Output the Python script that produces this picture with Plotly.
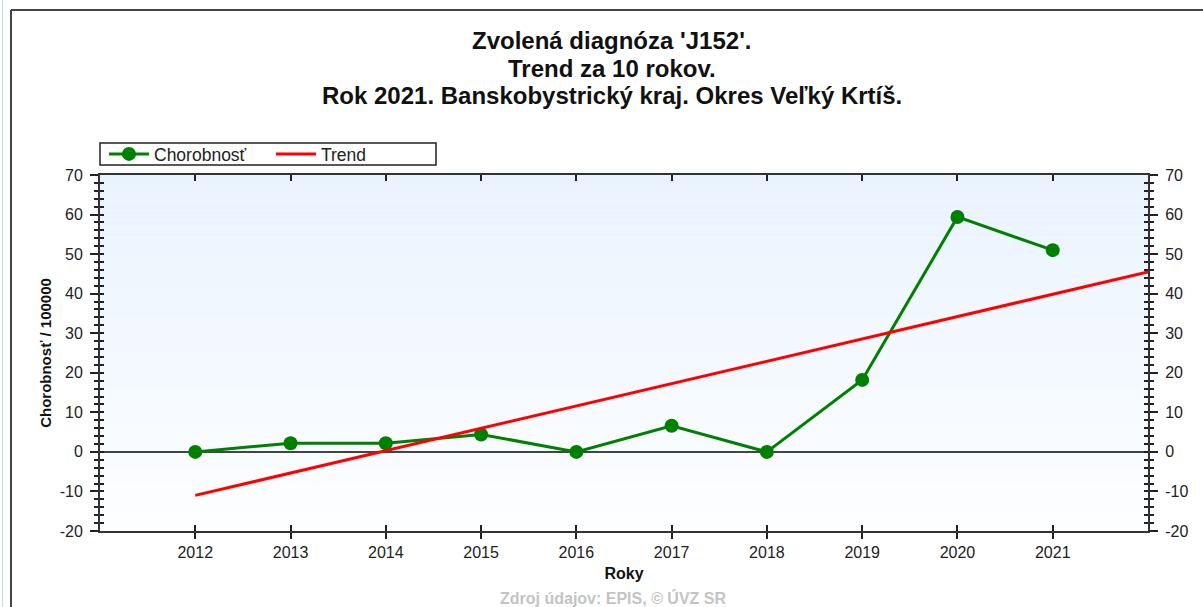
import plotly.graph_objects as go

# ---- data ----
years = [2012, 2013, 2014, 2015, 2016, 2017, 2018, 2019, 2020, 2021]
morbidity = [0.0, 2.2, 2.2, 4.4, 0.0, 6.6, 0.0, 18.2, 59.4, 51.0]
trend_years = [2012, 2022]
trend_values = [-11.0, 45.5]
x_tick_labels = [str(y) for y in years]
y_tick_values = [-20, -10, 0, 10, 20, 30, 40, 50, 60, 70]
y_tick_labels = ["-20", "-10", "0", "10", "20", "30", "40", "50", "60", "70"]

title_lines = [
    "Zvolená diagnóza 'J152'.",
    "Trend za 10 rokov.",
    "Rok 2021. Banskobystrický kraj. Okres Veľký Krtíš.",
]
series_names = ["Chorobnosť", "Trend"]
y_title = "Chorobnosť / 100000"
x_title = "Roky"
footer = "Zdroj údajov: EPIS, © ÚVZ SR"

# ---- layout geometry (pixels) ----
W, H = 1203, 607
L, R, T, B = 100, 1148, 175, 531
PW, PH = R - L, B - T


def px(xp):
    return (xp - L) / PW


def py(yp):
    return (B - yp) / PH


FONT = "Arial, Liberation Sans, sans-serif"
TXT = "#222222"

fig = go.Figure()

fig.add_trace(go.Scatter(
    x=years, y=morbidity, name=series_names[0], mode="lines+markers",
    line=dict(color="#008000", width=3),
    marker=dict(color="#008000", size=14, symbol="circle"),
))
fig.add_trace(go.Scatter(
    x=trend_years, y=trend_values, name=series_names[1], mode="lines",
    line=dict(color="#ff0000", width=3),
))
# helper traces to activate the extra axes
fig.add_trace(go.Scatter(x=[], y=[], xaxis="x2", yaxis="y3", showlegend=False, hoverinfo="skip"))
fig.add_trace(go.Scatter(x=[], y=[], xaxis="x", yaxis="y2", showlegend=False, hoverinfo="skip"))

xr = [2011, 2022]
yr = [-20, 70]
common_tickfont = dict(family=FONT, size=16, color=TXT)

fig.update_layout(
    width=W, height=H,
    margin=dict(l=L, r=W - R, t=T, b=H - B, pad=0),
    paper_bgcolor="white",
    plot_bgcolor="white",
    font=dict(family=FONT, color=TXT),
    showlegend=True,
    legend=dict(
        orientation="h", x=px(104), y=py(154), xanchor="left", yanchor="middle",
        font=dict(family=FONT, size=17.5, color=TXT),
        bgcolor="rgba(0,0,0,0)", borderwidth=0,
        entrywidth=112, entrywidthmode="pixels",
        itemwidth=40, tracegroupgap=0,
    ),
    xaxis=dict(
        range=xr, tickvals=years, ticktext=x_tick_labels,
        ticks="outside", ticklen=6, tickwidth=1.5, tickcolor="#222",
        showline=True, linecolor="#333", linewidth=2, mirror=True,
        showgrid=False, zeroline=False, tickfont=common_tickfont,
        title=dict(text=f"<b>{x_title}</b>", font=dict(family=FONT, size=16, color="#111"), standoff=8),
    ),
    xaxis2=dict(
        range=xr, overlaying="x", anchor="y", side="bottom", tickvals=years,
        ticks="inside", ticklen=6, tickwidth=1.5, tickcolor="#222", mirror="ticks",
        showticklabels=False, showline=False, showgrid=False, zeroline=False,
    ),
    yaxis=dict(
        range=yr, tickvals=y_tick_values, ticktext=y_tick_labels, side="left",
        ticks="outside", ticklen=8, tickwidth=1.5, tickcolor="#222",
        minor=dict(dtick=2, ticks="outside", ticklen=4, tickwidth=1.5, tickcolor="#222", showgrid=False),
        showline=True, linecolor="#333", linewidth=2,
        showgrid=False, zeroline=True, zerolinecolor="#444", zerolinewidth=1.5,
        tickfont=common_tickfont, ticklabelstandoff=4,
        title=dict(text=f"<b>{y_title}</b>", font=dict(family=FONT, size=15, color="#111"), standoff=4),
    ),
    yaxis2=dict(
        range=yr, tickvals=y_tick_values, ticktext=y_tick_labels, overlaying="y", side="right", anchor="x",
        ticks="outside", ticklen=8, tickwidth=1.5, tickcolor="#222",
        minor=dict(dtick=2, ticks="outside", ticklen=4, tickwidth=1.5, tickcolor="#222", showgrid=False),
        showline=True, linecolor="#333", linewidth=2,
        showgrid=False, zeroline=False, tickfont=common_tickfont, ticklabelstandoff=4,
    ),
    yaxis3=dict(
        range=yr, tickvals=y_tick_values, overlaying="y", side="left", anchor="x2",
        ticks="inside", ticklen=4, tickwidth=1.5, tickcolor="#222", mirror="ticks",
        minor=dict(dtick=2, ticks="inside", ticklen=4, tickwidth=1.5, tickcolor="#222", showgrid=False),
        showticklabels=False, showline=False, showgrid=False, zeroline=False,
    ),
)

# gradient plot background
N = 40
top = (233, 243, 254)
bot = (253, 254, 255)
for i in range(N):
    t = i / (N - 1)
    c = tuple(round(top[k] + (bot[k] - top[k]) * t) for k in range(3))
    fig.add_shape(
        type="rect", xref="x domain", yref="y domain",
        x0=0, x1=1, y0=1 - (i + 1) / N, y1=1 - i / N,
        fillcolor=f"rgb{c}", line=dict(width=0), layer="below",
    )

# legend box
fig.add_shape(type="rect", xref="paper", yref="paper",
              x0=px(100), x1=px(436), y0=py(165), y1=py(143),
              line=dict(color="#222", width=1.5), fillcolor="rgba(0,0,0,0)")
# outer frame
fig.add_shape(type="line", xref="paper", yref="paper",
              x0=px(11), x1=px(1210), y0=py(10), y1=py(10),
              line=dict(color="#444", width=2))
fig.add_shape(type="line", xref="paper", yref="paper",
              x0=px(11), x1=px(11), y0=py(10), y1=py(620),
              line=dict(color="#444", width=2))
fig.add_shape(type="line", xref="paper", yref="paper",
              x0=px(2.5), x1=px(2.5), y0=py(0), y1=py(620),
              line=dict(color="#c9d9ea", width=1))

# title lines
for line, yc in zip(title_lines, [40, 68, 96]):
    fig.add_annotation(
        text=f"<b>{line}</b>", xref="paper", yref="paper",
        x=px(612), y=py(yc), xanchor="center", yanchor="middle",
        showarrow=False, font=dict(family=FONT, size=24, color="#111"),
    )

# footer
fig.add_annotation(
    text=f"<b>{footer}</b>", xref="paper", yref="paper",
    x=px(613), y=py(598), xanchor="center", yanchor="middle",
    showarrow=False, font=dict(family=FONT, size=16, color="#c4c4c4"),
)

fig.write_html(
    "out.html",
    config={"displayModeBar": False},
    post_script="document.body.style.margin='0';document.body.style.overflow='hidden';",
)
